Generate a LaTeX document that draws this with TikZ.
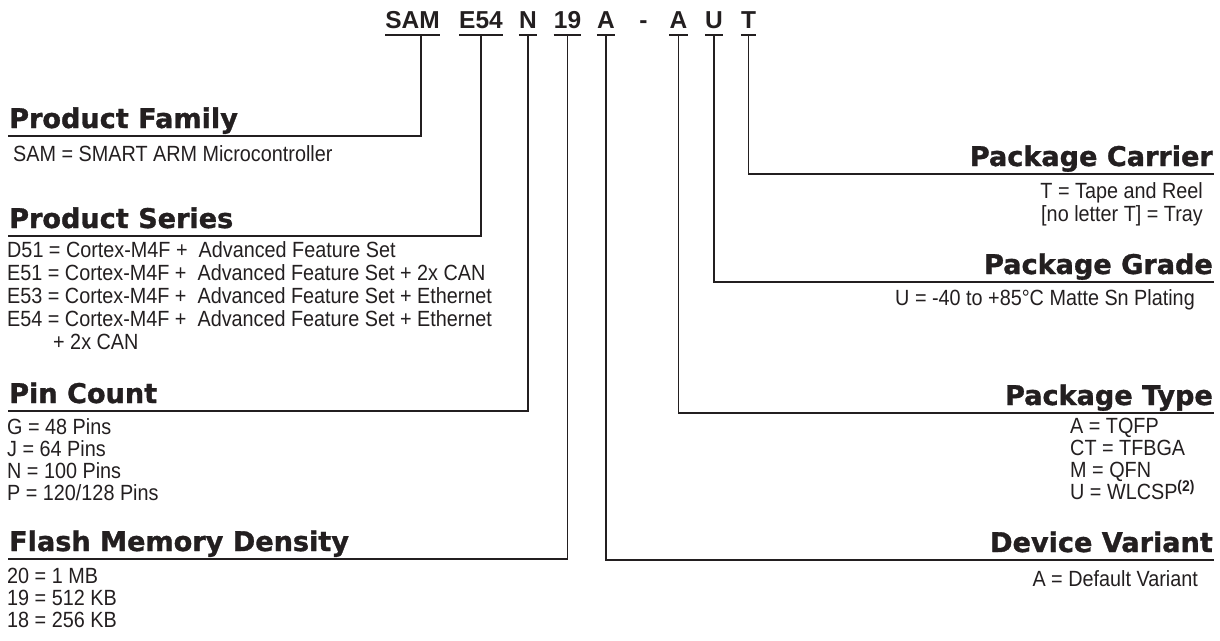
\documentclass[tikz,border=0pt]{standalone}
\usepackage{fontspec}
\setmainfont{Liberation Sans}
\newfontfamily\headfont[BoldFeatures={FakeBold=1.2}]{DejaVu Sans}
\newfontfamily\bodyfont[FakeStretch=0.9]{Liberation Sans}
\definecolor{ink}{HTML}{231F20}
\tikzset{
    code/.style={font=\bfseries\fontsize{24.5}{28}\selectfont, inner sep=0pt, anchor=base, text=ink},
    head/.style={font=\headfont\bfseries\fontsize{27.1}{30}\selectfont, inner xsep=1pt, inner ysep=8pt, text depth=0pt, text=ink},
    body/.style={font=\bodyfont\fontsize{22}{24}\selectfont, inner sep=0pt, text=ink},
    conn/.style={draw=ink, line width=1.6pt},
    uline/.style={draw=ink, line width=2.2pt}
}
\begin{document}
\begin{tikzpicture}[x=1pt, y=-1pt]
    \useasboundingbox (0,0) rectangle (1220,640);
    % ordering code
    \node[code] (sam) at (412.5,28) {SAM};
    \node[code] (ser) at (481,28) {E54};
    \node[code] (pin) at (528,28) {N};
    \node[code] (mem) at (567.5,28) {19};
    \node[code] (var) at (606,28) {A};
    \node[code] (dash) at (643.5,28) {-};
    \node[code] (typ) at (678.5,28) {A};
    \node[code] (grd) at (714,28) {U};
    \node[code] (car) at (748.5,28) {T};
    \foreach \n in {sam,ser,pin,mem,var,typ,grd,car}
        \draw[uline] ([yshift=-7pt]\n.base west) -- ([yshift=-7pt]\n.base east);

    % left side
    \node[head, anchor=base west] (hfam) at (8,128) {Product Family};
    \node[body, anchor=base west] (fam1) at (13,161) {SAM = SMART ARM Microcontroller};
    \draw[conn] ([xshift=8.5pt,yshift=-7pt]sam.base) |- (hfam.south west);

    \node[head, anchor=base west] (hser) at (8,228) {Product Series};
    \foreach \t/\y [count=\i] in {{D51 = Cortex-M4F +\ \ Advanced Feature Set}/257,
        {E51 = Cortex-M4F +\ \ Advanced Feature Set + 2x CAN}/280,
        {E53 = Cortex-M4F +\ \ Advanced Feature Set + Ethernet}/303,
        {E54 = Cortex-M4F +\ \ Advanced Feature Set + Ethernet}/326,
        {\hspace*{46pt}+ 2x CAN}/349}
        \node[body, anchor=base west] (ser\i) at (7,\y) {\t};
    \draw[conn] ([yshift=-7pt]ser.base) |- (hser.south west);

    \node[head, anchor=base west] (hpin) at (8,403) {Pin Count};
    \foreach \t [count=\i] in {G = 48 Pins, J = 64 Pins, N = 100 Pins, P = 120/128 Pins}
        \node[body, anchor=base west] (pin\i) at (7,412+22*\i) {\t};
    \draw[conn] ([yshift=-7pt]pin.base) |- (hpin.south west);

    \node[head, anchor=base west] (hmem) at (8,551) {Flash Memory Density};
    \foreach \t [count=\i] in {20 = 1 MB, 19 = 512 KB, 18 = 256 KB}
        \node[body, anchor=base west] (mem\i) at (7,561+22*\i) {\t};
    \draw[conn] ([yshift=-7pt]mem.base) |- (hmem.south west);

    % right side
    \node[head, anchor=base east] (hcar) at (1214,166) {Package Carrier};
    \node[body, anchor=base east] (car1) at (1203,198) {T = Tape and Reel};
    \node[body, anchor=base east] (car2) at (1203,221) {[no letter T] = Tray};
    \draw[conn] ([yshift=-7pt]car.base) |- (hcar.south east);

    \node[head, anchor=base east] (hgrd) at (1214,274) {Package Grade};
    \node[body, anchor=base east] (grd1) at (1195,305) {U = -40 to +85°C Matte Sn Plating};
    \draw[conn] ([yshift=-7pt]grd.base) |- (hgrd.south east);

    \node[head, anchor=base east] (htyp) at (1214,405) {Package Type};
    \foreach \t [count=\i] in {A = TQFP, CT = TFBGA, M = QFN, {U = WLCSP\textsuperscript{\bfseries(2)}}}
        \node[body, anchor=base west] (typ\i) at (1070,411+22*\i) {\t};
    \draw[conn] ([yshift=-7pt]typ.base) |- (htyp.south east);

    \node[head, anchor=base east] (hvar) at (1214,552) {Device Variant};
    \node[body, anchor=base east] (var1) at (1198,586) {A = Default Variant};
    \draw[conn] ([yshift=-7pt]var.base) |- (hvar.south east);
\end{tikzpicture}
\end{document}
